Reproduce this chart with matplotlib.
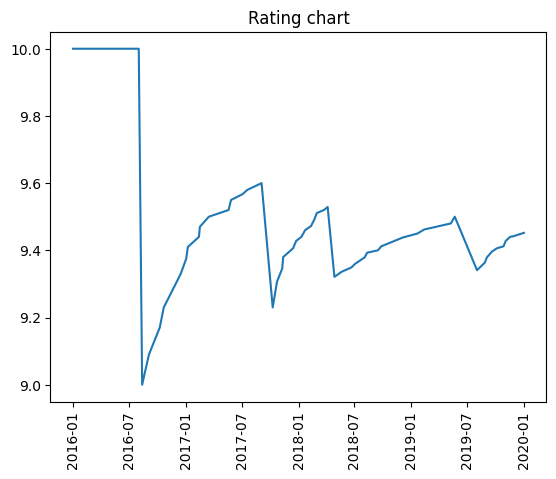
#!/usr/bin/env python3

import numpy as np
import pandas as pd
import matplotlib
matplotlib.use("Agg")
import matplotlib.pyplot as plt

# =========================
# DATA
# =========================

dates = pd.to_datetime([
    "2016-01-01", "2016-08-01", "2016-08-12", "2016-09-03", "2016-10-08",
    "2016-10-21", "2016-12-15", "2017-01-02", "2017-01-07", "2017-02-12",
    "2017-02-15", "2017-03-16", "2017-05-19", "2017-05-27", "2017-07-03",
    "2017-07-19", "2017-09-03", "2017-10-09", "2017-10-23", "2017-11-09",
    "2017-11-12", "2017-12-14", "2017-12-24", "2018-01-10", "2018-01-22",
    "2018-02-10", "2018-02-20", "2018-03-01", "2018-03-24", "2018-04-05",
    "2018-04-27", "2018-05-20", "2018-06-21", "2018-07-02", "2018-07-13",
    "2018-08-03", "2018-08-11", "2018-09-15", "2018-09-26", "2018-12-04",
    "2019-01-21", "2019-02-12", "2019-05-09", "2019-05-22", "2019-08-02",
    "2019-08-27", "2019-09-03", "2019-09-19", "2019-10-05", "2019-10-27",
    "2019-11-03", "2019-11-17", "2019-11-28", "2020-01-01",
])

rating = np.array([
    10.0, 10.0, 9.0, 9.09, 9.17,
    9.23, 9.33, 9.376, 9.41, 9.44,
    9.47, 9.50, 9.52, 9.55, 9.567,
    9.58, 9.60, 9.23, 9.307, 9.346,
    9.38, 9.406, 9.428, 9.44, 9.46,
    9.472, 9.49, 9.511, 9.52, 9.529,
    9.321, 9.336, 9.349, 9.359, 9.366,
    9.379, 9.393, 9.40, 9.412, 9.438,
    9.45, 9.462, 9.48, 9.50, 9.341,
    9.363, 9.379, 9.396, 9.406, 9.412,
    9.428, 9.44, 9.442, 9.452,
])

# =========================
# PLOTTING
# =========================

fig, ax = plt.subplots(figsize=(6.4, 4.8), dpi=100)

ax.plot(dates, rating)
ax.set_title("Rating chart")
plt.xticks(rotation=90)

plt.savefig("out.png", dpi=100, bbox_inches="tight")
